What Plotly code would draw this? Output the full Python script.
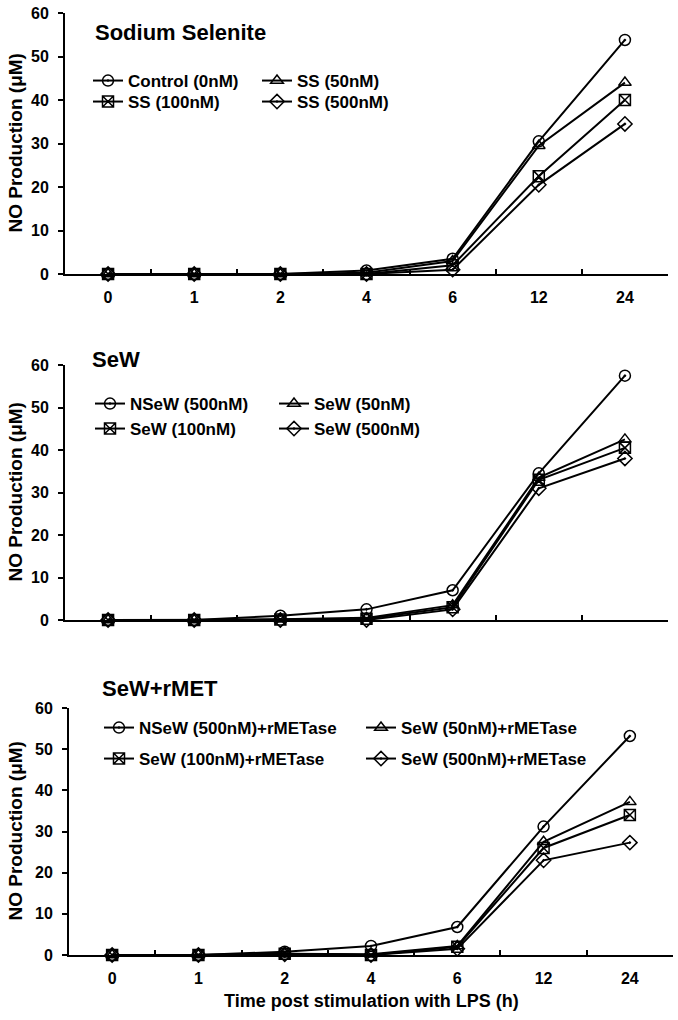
import plotly.graph_objects as go

times = ["0", "1", "2", "4", "6", "12", "24"]

# Panel 1: Sodium Selenite
p1_names = ["Control (0nM)", "SS (50nM)", "SS (100nM)", "SS (500nM)"]
p1_control = [0, 0, 0, 0.8, 3.5, 30.5, 53.8]
p1_ss50 = [0, 0, 0, 0.3, 3.0, 29.5, 44.0]
p1_ss100 = [0, 0, 0, 0.0, 2.0, 22.5, 40.0]
p1_ss500 = [0, 0, 0, 0.0, 1.0, 20.5, 34.5]

# Panel 2: SeW
p2_names = ["NSeW (500nM)", "SeW (50nM)", "SeW (100nM)", "SeW (500nM)"]
p2_nsew = [0, 0, 1.0, 2.5, 7.0, 34.5, 57.5]
p2_sew50 = [0, 0, 0.2, 0.5, 3.5, 33.5, 42.5]
p2_sew100 = [0, 0, 0.1, 0.3, 3.0, 33.0, 40.5]
p2_sew500 = [0, 0, 0.0, 0.0, 2.5, 31.0, 38.0]

# Panel 3: SeW+rMET
p3_names = ["NSeW (500nM)+rMETase", "SeW (50nM)+rMETase", "SeW (100nM)+rMETase", "SeW (500nM)+rMETase"]
p3_nsew = [0, 0, 0.8, 2.2, 6.8, 31.2, 53.2]
p3_sew50 = [0, 0, 0.3, 0.2, 2.2, 27.5, 37.2]
p3_sew100 = [0, 0, 0.3, 0.0, 2.0, 26.0, 34.0]
p3_sew500 = [0, 0, 0.2, 0.0, 1.5, 23.0, 27.3]

panel_titles = ["Sodium Selenite", "SeW", "SeW+rMET"]
y_title = "NO Production (μM)"
x_title = "Time post stimulation with LPS (h)"
y_ticks = [0, 10, 20, 30, 40, 50, 60]

symbols = ["circle-open-dot", "triangle-up-open", "square-x-open", "diamond-open-dot"]

W, H = 678, 1020
FONT = "Liberation Sans, Arial, sans-serif"

def py(p):
    return 1 - p / H

def px(p):
    return p / W

x_doms = [[px(65), px(668)], [px(65), px(668)], [px(69), px(673)]]
y_doms = [[py(274), py(13)], [py(620), py(365)], [py(955), py(708)]]

panels = [
    (p1_names, [p1_control, p1_ss50, p1_ss100, p1_ss500]),
    (p2_names, [p2_nsew, p2_sew50, p2_sew100, p2_sew500]),
    (p3_names, [p3_nsew, p3_sew50, p3_sew100, p3_sew500]),
]

# legend text start x for col1/col2, and row y's (pixels)
leg_cols = [(128, 297), (130, 314), (139, 401)]
leg_rows = [(81, 102), (404, 429), (728, 759)]
LEG_TEXT_OFFSET = 40

fig = go.Figure()
layout = dict(
    width=W, height=H,
    margin=dict(l=0, r=0, t=0, b=0, autoexpand=False),
    paper_bgcolor="white", plot_bgcolor="white",
    showlegend=True,
    font=dict(family=FONT, color="black", size=14),
)

for i, (names, series) in enumerate(panels):
    xa = "x" if i == 0 else f"x{i+1}"
    ya = "y" if i == 0 else f"y{i+1}"
    for j, (nm, vals) in enumerate(zip(names, series)):
        idx = i * 4 + j + 1
        leg_name = "legend" if idx == 1 else f"legend{idx}"
        fig.add_trace(go.Scatter(
            x=times, y=vals, name=nm, mode="lines+markers",
            xaxis=xa, yaxis=ya, legend=leg_name,
            line=dict(color="black", width=2),
            marker=dict(symbol=symbols[j], size=11, color="black",
                        line=dict(color="black", width=1.5)),
            cliponaxis=False,
        ))
        tx = leg_cols[i][j % 2]
        ty = leg_rows[i][j // 2]
        layout[leg_name] = dict(
            x=px(tx - LEG_TEXT_OFFSET), y=py(ty), xanchor="left", yanchor="middle",
            bgcolor="rgba(0,0,0,0)", borderwidth=0,
            font=dict(family=FONT, size=17, color="black", weight="bold"),
            itemclick=False, itemdoubleclick=False,
        )

for i in range(3):
    xk = "xaxis" if i == 0 else f"xaxis{i+1}"
    yk = "yaxis" if i == 0 else f"yaxis{i+1}"
    ya = "y" if i == 0 else f"y{i+1}"
    xa = "x" if i == 0 else f"x{i+1}"
    layout[xk] = dict(
        domain=x_doms[i], anchor=ya, type="category",
        categoryorder="array", categoryarray=times,
        range=[-0.5, 6.5], showgrid=False, zeroline=False,
        showline=True, linecolor="black", linewidth=2,
        ticks="inside", tickson="boundaries", ticklen=5, tickwidth=2, tickcolor="black",
        showticklabels=(i != 1), ticklabelstandoff=8,
        tickfont=dict(family=FONT, size=16, color="black", weight="bold"),
        automargin=False,
    )
    layout[yk] = dict(
        domain=y_doms[i], anchor=xa, range=[0, 60],
        tickvals=y_ticks, showgrid=False, zeroline=False,
        showline=True, linecolor="black", linewidth=2,
        ticks="outside", ticklen=5, tickwidth=2, tickcolor="black",
        ticklabelstandoff=6,
        tickfont=dict(family=FONT, size=16, color="black", weight="bold"),
        automargin=False,
    )

fig.update_layout(**layout)

title_pos = [(93, 32), (90, 359), (100, 688)]
for t, (tx, ty) in zip(panel_titles, title_pos):
    fig.add_annotation(text=t, x=px(tx), y=py(ty), xref="paper", yref="paper",
                       xanchor="left", yanchor="middle", showarrow=False,
                       font=dict(family=FONT, size=22, color="black", weight="bold"))

for i in range(3):
    yc = (y_doms[i][0] + y_doms[i][1]) / 2
    fig.add_annotation(text=y_title, x=px(15), y=yc, xref="paper", yref="paper",
                       xanchor="center", yanchor="middle", textangle=-90, showarrow=False,
                       font=dict(family=FONT, size=19, color="black", weight="bold"))

fig.add_annotation(text=x_title, x=(x_doms[2][0] + x_doms[2][1]) / 2, y=py(1001),
                   xref="paper", yref="paper", xanchor="center", yanchor="middle",
                   showarrow=False,
                   font=dict(family=FONT, size=18, color="black", weight="bold"))

fig.write_html("out.html", config={"displayModeBar": False},
               post_script="document.body.style.margin='0';")
